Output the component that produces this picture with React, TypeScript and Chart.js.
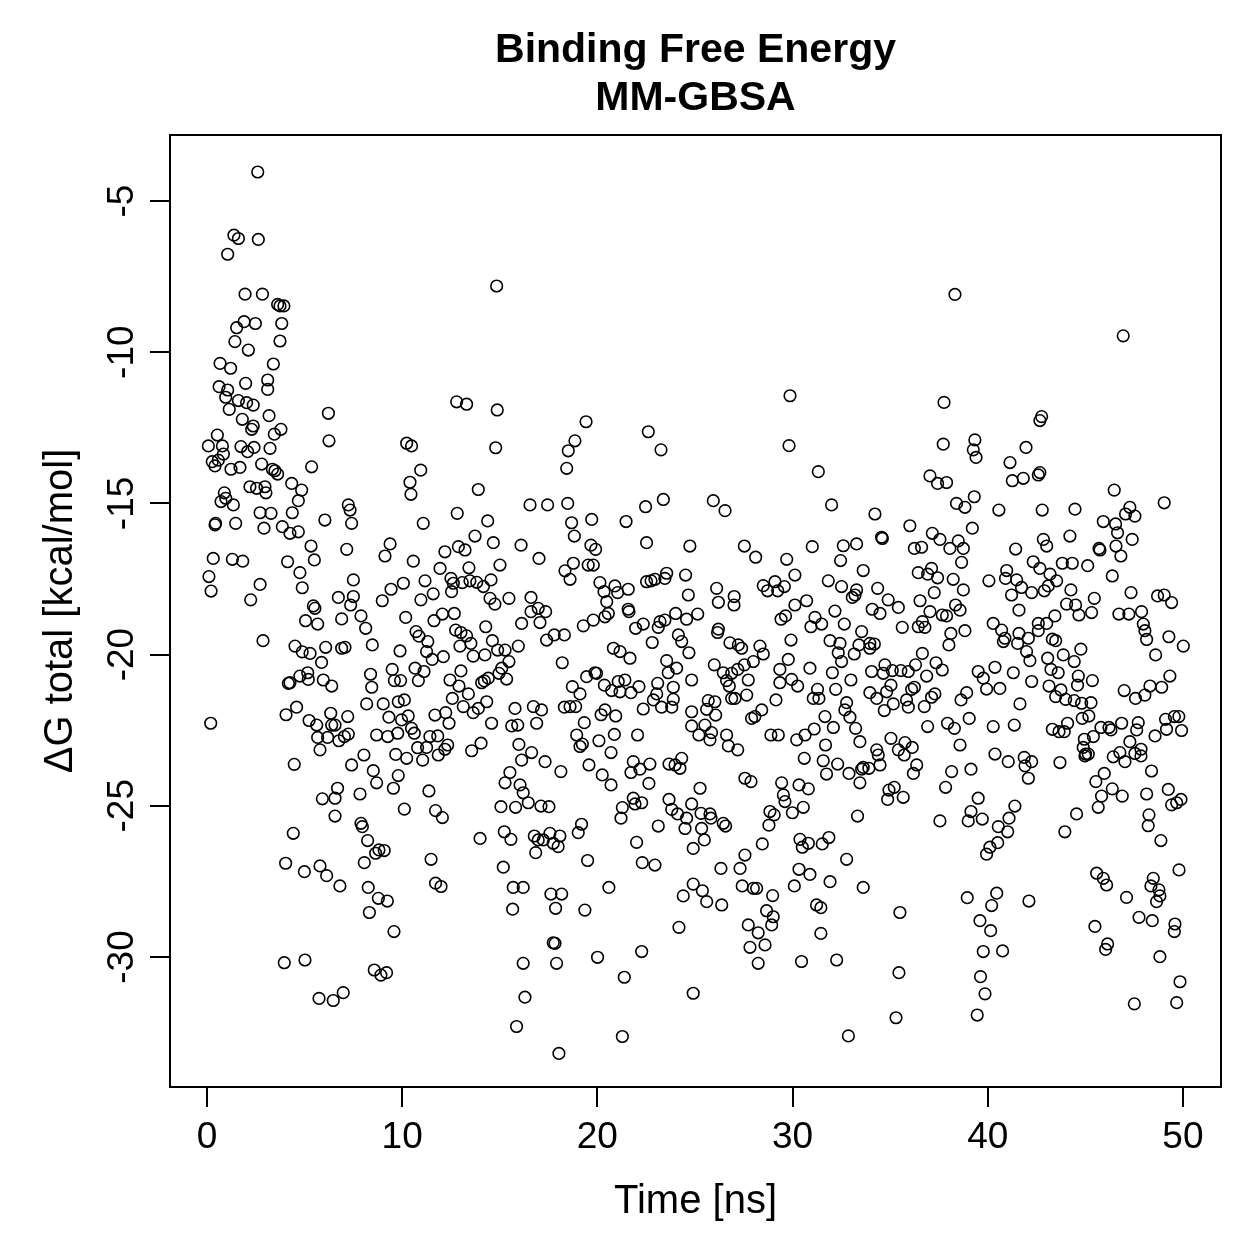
import React, { useEffect, useRef } from "react";
import { Chart, registerables } from "chart.js";

Chart.register(...registerables);

// ---- data: Time [ns] and ΔG total [kcal/mol], grouped by region ----
const time01 = [2.60,1.38,1.61,2.63,1.06,1.95,2.84,3.62,3.74,3.94,1.90,1.52,2.48,3.83,1.43,2.12,3.74,0.67,1.21,3.40,1.98,3.11,3.11,0.62,1.06,0.96,1.61,2.03,2.37,1.14,3.18,6.22,1.81,2.37,2.29,3.79,3.45,6.25,0.53,0.07,0.79,1.74,2.08,2.41,3.23,0.84,0.27,0.41,0.58,1.23,1.69,2.80,3.35,3.48,3.62,5.36,2.20,2.54,2.97,3.02,4.34,4.85,4.68,0.89,0.96,0.72,1.35,7.24,7.33,2.72,3.28,4.37,0.41,0.44,1.47,2.92,3.86,4.25,4.68,6.04,7.41,5.33,5.50,7.16,0.32,1.30,1.83,4.13,4.76,0.10,0.21,2.72,2.24,4.88,6.73,5.45,5.53,7.50,7.50,7.36];
const dG01 = [-4.04,-6.13,-6.24,-6.27,-6.76,-8.08,-8.08,-8.42,-8.47,-8.47,-8.99,-9.19,-9.05,-9.05,-9.65,-9.93,-9.63,-10.37,-10.53,-10.39,-11.03,-10.92,-11.23,-11.14,-11.25,-11.49,-11.60,-11.67,-11.75,-11.89,-12.10,-12.02,-12.22,-12.44,-12.55,-12.55,-12.71,-12.93,-12.74,-13.10,-13.10,-13.12,-13.29,-13.15,-13.18,-13.37,-13.62,-13.76,-13.57,-13.87,-13.81,-13.70,-13.87,-13.92,-14.03,-13.79,-14.45,-14.50,-14.45,-14.65,-14.34,-14.56,-14.91,-14.65,-14.83,-14.94,-15.05,-15.05,-15.22,-15.31,-15.33,-15.31,-15.71,-15.66,-15.66,-15.82,-15.77,-15.99,-15.94,-15.55,-15.66,-16.41,-16.87,-16.52,-16.82,-16.85,-16.91,-16.93,-17.29,-17.42,-17.90,-17.68,-18.19,-17.79,-18.11,-18.39,-18.47,-17.53,-18.08,-18.36];

const time02 = [5.05,5.67,6.90,2.87,4.51,4.88,5.28,6.08,6.90,7.07,5.87,5.16,4.76,5.19,4.17,4.25,5.96,6.39,0.19,4.59,4.05,5.23,5.62,6.34,6.56,6.39,7.21,5.67,6.18,6.76,7.04,7.24,5.79,4.47,7.41,6.69,5.91,6.56,6.56,4.42,4.03,4.99,5.79,6.13,6.81,3.96,5.02,5.74,6.47,6.98];
const dG02 = [-18.88,-18.99,-18.82,-19.54,-19.72,-19.91,-19.96,-19.76,-19.79,-19.76,-20.26,-20.60,-20.71,-20.82,-20.95,-20.93,-20.84,-21.04,-22.27,-21.74,-21.99,-22.18,-22.33,-21.94,-22.33,-22.33,-22.05,-22.74,-22.74,-22.85,-22.71,-22.63,-23.15,-23.63,-23.65,-24.42,-24.77,-24.75,-25.34,-25.91,-26.90,-27.18,-26.99,-27.31,-27.65,-30.19,-30.10,-31.37,-31.44,-31.18];

const time03 = [14.84,12.79,13.30,14.87,10.23,10.48,14.79,10.95,10.40,10.45,13.90,12.82,11.08,14.38,13.73,14.67,16.09,9.38,9.12,10.57,12.19,12.88,13.22,11.94,13.42,15.01,10.06,9.43,8.98,11.17,11.59,10.96,12.50,12.62,13.08,13.47,13.82,14.16,14.55,12.53,14.50,14.75,15.47];
const dG03 = [-7.81,-11.64,-11.72,-11.91,-13.01,-13.10,-13.16,-13.90,-14.30,-14.70,-14.54,-15.33,-15.66,-15.58,-16.08,-16.30,-16.38,-16.34,-16.74,-16.91,-16.60,-16.43,-16.54,-17.15,-17.13,-17.04,-17.64,-17.84,-18.22,-17.56,-17.99,-18.19,-17.48,-17.64,-17.62,-17.56,-17.61,-17.75,-17.53,-17.92,-18.14,-18.33,-18.14];

const time04 = [7.89,8.13,8.47,10.18,10.71,10.86,11.63,12.06,12.67,11.31,11.25,11.54,12.11,9.89,12.74,13.01,13.30,13.52,12.96,13.64,14.24,14.28,14.62,14.89,15.27,15.47,15.95,16.12,15.10,14.96,15.35,14.41,14.07,14.21,13.01,12.45,12.91,13.39,12.57,13.13,13.64,13.90,14.33,14.58,9.49,8.38,8.44,9.60,9.92,10.66,11.12,10.83,9.80,10.11,9.03,8.18,9.32,9.97,10.31,11.68,12.23,12.40,10.48,10.62,9.77,9.26,8.69,11.42,11.82,12.33,12.19,10.79,11.25,11.85,11.05,10.23,9.67,14.04,13.56,15.78,15.61,15.92,15.98,16.12,8.04,8.52,8.69,9.80,9.55,7.84,11.37,10.11,11.71,12.06,15.52,15.27,16.04,16.20,15.06,15.81,7.89,7.96,8.23,8.06,8.64,8.81,9.08,11.48,13.99,15.23,15.57,15.18,8.26,8.78,9.24,8.32,11.71,11.99,15.69,16.20,15.66,9.58,8.57,8.91,9.20,16.20,16.29,15.86];
const dG04 = [-18.72,-19.13,-19.68,-18.77,-19.24,-19.39,-18.88,-18.66,-18.64,-19.57,-19.90,-20.16,-20.07,-19.88,-19.19,-19.27,-19.38,-19.63,-19.72,-20.05,-20.01,-19.08,-19.54,-19.85,-19.85,-20.23,-19.72,-18.97,-20.45,-20.62,-20.81,-20.78,-20.93,-20.87,-20.54,-20.84,-21.04,-21.30,-21.45,-21.72,-21.92,-21.78,-21.56,-22.27,-20.49,-20.65,-21.08,-20.86,-20.86,-20.45,-20.56,-20.86,-21.56,-21.50,-21.63,-21.63,-22.07,-22.16,-22.03,-22.00,-21.92,-22.27,-22.44,-22.60,-22.60,-22.71,-22.66,-22.71,-22.69,-22.99,-23.13,-23.08,-23.07,-23.32,-23.49,-23.43,-23.30,-22.93,-23.18,-21.78,-22.36,-22.33,-22.97,-23.49,-23.32,-23.84,-24.24,-24.00,-24.42,-24.61,-24.51,-25.11,-25.16,-25.39,-23.90,-24.24,-24.31,-24.57,-25.03,-25.05,-25.58,-25.69,-26.15,-26.88,-26.57,-26.46,-26.48,-26.77,-26.08,-25.86,-26.11,-27.03,-27.70,-28.06,-28.15,-28.53,-27.56,-27.67,-27.70,-27.70,-28.42,-29.16,-30.43,-30.60,-30.52,-30.21,-31.33,-32.30];

const time05 = [19.42,18.85,18.51,18.43,22.61,23.26,16.55,17.45,18.48,18.68,19.71,21.47,22.47,23.38,18.82,22.52,17.01,19.67,19.91,18.77,18.34,18.60,19.53,19.79,24.74,20.13,20.34,20.90,21.04,21.58,20.48,20.56,21.58,21.62,22.52,22.75,22.95,23.46,23.55,24.52,24.66,16.60,16.60,16.97,17.35];
const dG05 = [-12.30,-12.93,-13.26,-13.84,-12.63,-13.23,-15.05,-15.05,-15.00,-15.64,-15.53,-15.60,-15.11,-14.87,-16.08,-16.30,-16.82,-16.38,-16.52,-16.98,-17.23,-17.51,-17.04,-17.04,-16.41,-17.62,-17.92,-17.73,-17.95,-17.84,-18.25,-18.64,-18.50,-18.58,-17.59,-17.56,-17.51,-17.48,-17.31,-17.37,-18.03,-18.11,-18.58,-18.47,-18.58];

const time06 = [17.06,17.40,17.79,18.31,18.20,19.28,19.79,20.39,21.96,22.35,22.81,23.21,23.46,23.12,24.01,24.57,24.15,24.32,24.69,20.82,21.16,21.67,23.55,24.06,23.63,24.83,19.45,19.88,19.96,18.72,19.11,20.36,20.73,21.07,21.41,21.16,21.72,22.13,23.09,23.04,22.87,23.29,23.89,23.89,23.81,22.35,18.31,18.60,18.89,16.72,17.14,16.89,20.19,20.39,20.94,19.33,18.94,19.11,19.23,20.08,20.87,22.06,24.83,24.83,16.63,17.32,18.13,19.57,20.25,20.70,20.70,21.84,21.72,22.18,22.69,22.64,23.67,23.98,24.32,24.23,16.46,17.11,17.52,21.28,21.21,21.84,21.93,22.27,23.67,23.81,24.11,24.57,24.49,24.83,23.12,19.19,19.02,16.77,16.97,17.23,17.57,17.74,17.99,18.08,16.84,22.01,19.50,22.30,22.95,24.91,17.62,18.17,17.86,19.36,20.59,24.40,24.91,24.18,17.74,17.83,17.91,20.01,22.27,21.38,24.91,21.28,18.03];
const dG06 = [-18.94,-19.52,-19.35,-19.35,-20.27,-19.05,-18.86,-18.75,-19.13,-18.99,-19.60,-18.91,-18.86,-19.10,-18.64,-18.83,-19.35,-19.57,-19.94,-19.79,-19.90,-20.12,-20.20,-20.45,-20.60,-20.84,-20.73,-20.60,-20.62,-21.06,-21.30,-21.01,-21.19,-20.89,-20.84,-21.23,-21.26,-21.06,-20.95,-21.30,-21.50,-21.74,-21.08,-21.48,-21.74,-21.80,-21.74,-21.72,-21.72,-21.72,-21.83,-22.27,-21.99,-21.83,-22.03,-22.25,-22.66,-23.04,-22.96,-22.85,-22.64,-22.66,-21.89,-22.36,-23.24,-23.54,-23.87,-23.65,-23.98,-24.31,-23.24,-23.54,-23.90,-23.79,-23.62,-24.26,-23.62,-23.65,-23.43,-23.76,-24.90,-25.01,-25.03,-25.06,-25.41,-24.75,-24.94,-24.90,-24.79,-25.12,-25.27,-25.41,-25.75,-24.94,-25.67,-25.61,-25.89,-26.00,-26.13,-26.13,-25.91,-26.24,-26.35,-26.00,-26.55,-26.21,-26.81,-26.88,-26.96,-26.41,-27.92,-27.92,-28.39,-28.45,-27.70,-27.98,-27.59,-29.02,-29.53,-29.55,-30.21,-30.01,-29.82,-30.67,-31.20,-32.63,-33.19];

const time07 = [29.87,29.82,31.32,32.00,25.94,26.54,27.53,28.11,29.70,30.12,31.01,32.60,33.28,32.46,33.62,31.83,32.51,33.28,33.20,33.06,26.11,26.20,27.01,27.00,28.50,28.72,29.10,29.24,29.58,30.72,30.12,32.17];
const dG07 = [-11.44,-13.09,-13.95,-15.05,-14.91,-15.24,-16.41,-16.78,-16.85,-17.37,-16.43,-16.40,-16.34,-16.89,-17.22,-17.56,-17.75,-17.86,-18.03,-18.11,-17.81,-18.27,-18.08,-18.36,-17.72,-17.89,-17.59,-17.89,-17.75,-18.22,-18.36,-18.56];

const time08 = [25.14,29.41,29.64,31.15,31.49,30.94,32.65,33.54,26.20,26.16,26.79,27.22,27.39,28.33,28.50,29.92,31.92,32.43,32.34,32.51,33.16,33.40,25.99,26.45,26.88,27.19,27.53,27.99,27.73,26.62,26.76,26.88,27.05,27.65,29.35,29.78,29.35,29.95,30.26,30.89,32.04,32.99,31.28,31.06,31.35,32.21,32.77,32.68,32.94,33.23,33.45,33.54,33.62,33.45,29.15,28.42,28.07,27.90,25.68,26.02,25.60,26.06,25.51,25.20,25.85,25.77,26.62,26.71,27.19,28.89,29.27,30.21,30.64,31.11,31.66,32.09,31.69,30.60,31.57,32.31,31.74,32.89,27.56,27.87,29.44,30.33,30.81,29.53,29.61,30.55,29.99,25.26,25.31,25.77,25.82,25.34,26.45,26.57,25.48,28.84,29.06,28.79,33.33,28.45,30.38,30.50,30.81,31.52,31.86,27.56,27.31,26.33,30.33,30.89,32.77,31.92,33.62,30.09,25.38,25.60,26.37,27.42,27.99,28.16,28.98,28.67,29.01,28.93,27.73,28.24,27.82,28.59,28.24,31.23,31.45,31.45,30.46,32.26,32.86];
const dG08 = [-18.66,-18.83,-18.72,-18.77,-18.99,-19.08,-18.99,-19.24,-19.16,-19.27,-19.61,-19.68,-19.79,-19.72,-19.98,-19.52,-19.54,-19.63,-19.94,-20.23,-19.98,-19.68,-20.34,-20.60,-20.62,-20.49,-20.34,-20.23,-20.84,-20.86,-21.04,-21.45,-21.45,-21.34,-20.49,-20.16,-20.93,-20.82,-21.04,-20.45,-20.60,-20.84,-21.15,-21.45,-21.45,-21.15,-21.59,-21.83,-22.07,-22.44,-22.88,-23.79,-23.73,-24.24,-21.50,-21.83,-22.05,-22.11,-21.52,-21.56,-21.81,-22.00,-22.33,-22.66,-22.58,-22.82,-22.66,-23.02,-23.15,-22.66,-22.66,-22.82,-22.66,-22.46,-22.05,-22.41,-22.99,-23.43,-23.51,-23.62,-23.95,-23.93,-24.09,-24.20,-24.24,-24.31,-24.44,-24.64,-24.86,-25.05,-25.23,-24.42,-25.25,-25.27,-25.41,-25.75,-25.58,-25.67,-26.13,-25.19,-25.30,-25.64,-25.34,-26.26,-26.11,-26.37,-26.24,-26.26,-26.05,-26.63,-27.07,-27.07,-27.10,-27.27,-26.77,-27.51,-27.70,-27.65,-27.81,-28.17,-28.28,-27.65,-27.73,-27.73,-27.97,-28.47,-28.67,-28.94,-28.94,-29.20,-29.68,-29.60,-30.21,-28.28,-28.37,-29.22,-30.15,-30.10,-32.61];

const time09 = [38.32,37.76,37.72,39.34,39.26,39.40,41.96,41.14,41.26,41.82,37.04,37.43,37.89,38.40,38.83,39.31,40.57,34.22,36.01,34.56,34.60,37.16,37.55,38.49,38.75,39.21,38.06,36.24,36.61,38.66,41.43,42.33,36.44,36.92,37.12,37.43,38.23,38.75,37.26,40.06,40.97,40.91,41.48,41.73,42.25,41.22,41.60,34.36,34.90,35.42,36.53,34.08,34.48,37.04,37.67,38.35,38.58];
const dG09 = [-8.09,-11.66,-13.04,-12.90,-13.23,-13.48,-13.15,-13.65,-14.25,-14.17,-14.09,-14.34,-14.31,-15.00,-15.13,-14.78,-15.22,-15.35,-15.74,-16.12,-16.16,-15.99,-16.19,-16.24,-16.49,-15.82,-16.49,-16.49,-16.45,-16.95,-16.51,-16.93,-17.29,-17.34,-17.15,-17.46,-17.51,-17.86,-17.95,-17.56,-17.22,-17.48,-17.53,-17.78,-17.95,-18.03,-18.53,-17.81,-18.19,-18.44,-18.22,-18.50,-18.64,-18.58,-18.69,-18.36,-18.53];

const time10 = [37.89,35.62,36.44,36.65,36.78,38.11,38.83,38.01,33.96,34.19,33.96,40.28,40.71,40.88,40.80,41.60,42.08,41.53,41.99,42.16,42.25,36.65,37.35,37.67,36.87,34.73,34.05,34.65,35.11,35.55,35.93,36.30,35.04,34.82,33.96,34.31,35.16,34.70,35.84,35.93,36.10,36.24,36.75,37.12,37.29,39.51,39.77,39.94,40.37,40.62,41.31,41.65,38.63,38.92,39.05,37.94,38.29,36.92,40.28,41.36,38.58,35.04,35.42,35.76,36.13,35.72,34.31,34.39,34.48,33.91,36.36,36.19,38.15,39.14,40.37,41.05,41.87,41.91,42.08,42.25,37.84,34.94,35.21,34.87,35.67,37.55,39.51,39.14,39.00,39.72,40.54,41.09,41.39,41.02,40.51,40.11,39.94,35.50,38.95,40.46,40.20,42.11,39.60,40.15,39.77,40.76,35.45,39.63,39.86,35.30,39.46];
const dG10 = [-18.72,-19.10,-19.08,-18.91,-19.10,-19.30,-19.21,-19.68,-19.63,-19.65,-19.79,-18.97,-19.19,-19.46,-19.57,-19.30,-19.46,-19.63,-19.90,-20.20,-20.89,-19.96,-20.27,-20.51,-20.71,-20.34,-20.56,-20.62,-20.53,-20.53,-20.56,-20.34,-21.01,-21.23,-21.26,-21.45,-21.63,-21.85,-21.50,-21.74,-21.15,-21.08,-21.72,-21.41,-21.30,-20.56,-20.78,-21.14,-20.42,-21.12,-20.60,-21.63,-21.50,-21.26,-22.11,-22.27,-22.44,-22.38,-22.38,-22.33,-22.99,-22.77,-23.15,-22.91,-23.07,-23.32,-23.15,-23.32,-23.65,-23.76,-23.65,-23.93,-23.87,-23.79,-23.29,-23.54,-23.40,-23.68,-24.09,-23.54,-24.39,-24.48,-24.39,-24.79,-24.72,-25.50,-24.75,-25.19,-25.50,-25.44,-25.69,-25.41,-25.01,-25.86,-26.22,-26.37,-26.60,-28.53,-28.04,-27.89,-28.30,-28.15,-28.80,-29.13,-29.82,-29.80,-30.52,-30.65,-31.22,-32.01,-31.92];

const time11 = [46.94,42.76,42.67,42.67,42.59,46.48,49.04,42.79,44.47,47.28,47.06,47.54,45.92,46.55,46.65,47.40,46.57,46.82,44.21,42.85,43.02,45.70,45.75,42.67,43.82,44.33,45.12,43.19,43.53,43.10,42.90,46.38,44.26,45.46,47.34,48.70,49.04,49.42,44.04,44.50,45.32,44.67,43.44,46.72,47.23,47.88];
const dG11 = [-9.46,-12.13,-12.26,-13.98,-14.06,-14.56,-14.98,-15.22,-15.19,-15.13,-15.35,-15.42,-15.60,-15.68,-15.97,-16.19,-16.41,-16.74,-16.08,-16.19,-16.41,-16.49,-16.54,-17.15,-16.98,-16.98,-17.06,-17.34,-17.56,-17.73,-17.89,-17.40,-17.86,-18.14,-17.95,-18.06,-18.03,-18.28,-18.33,-18.36,-18.61,-18.69,-18.72,-18.66,-18.66,-18.58];

const time12 = [42.59,43.02,47.97,48.05,48.14,42.59,43.31,43.48,43.87,44.43,44.77,43.07,43.24,43.61,44.64,45.36,44.60,43.14,43.75,43.48,43.99,44.43,44.81,45.29,45.18,44.84,44.09,43.65,43.31,43.92,49.28,50.02,48.60,49.33,48.91,48.31,48.05,47.57,46.99,45.80,46.21,46.31,46.86,47.71,47.63,49.11,49.56,49.79,49.16,49.93,48.57,45.41,44.95,44.89,45.01,45.15,44.98,46.43,46.77,47.03,47.28,47.54,47.85,47.85,43.70,48.39,45.97,45.54,46.38,46.89,45.83,45.66,44.55,43.95,48.14,48.26,48.22,49.25,49.42,49.68,49.90,48.87,45.58,45.92,46.09,47.11,49.80,48.48,48.36,48.77,48.82,48.65,47.75,48.43,49.59,49.56,45.49,46.14,46.04,48.82,49.85,47.51,49.68];
const dG12 = [-18.97,-18.97,-18.99,-19.21,-19.50,-19.21,-19.49,-19.54,-20.01,-20.23,-19.82,-20.12,-20.49,-20.60,-20.71,-20.86,-21.01,-21.04,-21.17,-21.39,-21.48,-21.52,-21.61,-21.59,-22.03,-22.11,-22.27,-22.55,-22.47,-22.55,-19.41,-19.72,-20.01,-20.71,-21.08,-21.04,-21.34,-21.45,-21.19,-22.41,-22.41,-22.49,-22.27,-22.25,-22.49,-22.14,-22.05,-22.05,-22.47,-22.51,-22.69,-22.71,-22.80,-23.07,-23.29,-23.29,-23.35,-23.38,-23.24,-23.54,-22.88,-23.27,-23.13,-23.35,-23.57,-23.85,-23.93,-24.20,-24.44,-24.68,-24.68,-25.05,-25.27,-25.86,-24.61,-25.30,-25.66,-24.46,-24.97,-24.90,-24.79,-26.15,-27.23,-27.40,-27.62,-28.03,-27.12,-27.40,-27.65,-27.78,-27.98,-28.17,-28.69,-28.80,-28.91,-29.16,-28.99,-29.57,-29.75,-29.99,-30.82,-31.55,-31.51];

const xTicks = [0, 10, 20, 30, 40, 50];
const yTicks = [-5, -10, -15, -20, -25, -30];
const titleLines = ["Binding Free Energy", "MM-GBSA"];
const xTitle = "Time [ns]";
const yTitle = "\u0394G total [kcal/mol]";

const timeGroups = [time01, time02, time03, time04, time05, time06, time07, time08, time09, time10, time11, time12];
const dGGroups = [dG01, dG02, dG03, dG04, dG05, dG06, dG07, dG08, dG09, dG10, dG11, dG12];

const FONT = '"Liberation Sans", Arial, Helvetica, sans-serif';

export default function App() {
  const ref = useRef<HTMLCanvasElement | null>(null);

  useEffect(() => {
    const canvas = ref.current;
    if (!canvas) return;

    const points: { x: number; y: number }[] = [];
    timeGroups.forEach((ts, g) => {
      const ds = dGGroups[g];
      const n = Math.min(ts.length, ds.length);
      for (let i = 0; i < n; i++) points.push({ x: ts[i], y: ds[i] });
    });

    const rAxes = {
      id: "rAxes",
      afterDraw(chart: any) {
        const { ctx, chartArea: a, scales } = chart;
        const xs = scales.x;
        const ys = scales.y;
        ctx.save();
        ctx.strokeStyle = "#000";
        ctx.fillStyle = "#000";
        ctx.lineWidth = 2;
        ctx.strokeRect(a.left, a.top, a.right - a.left, a.bottom - a.top);

        const tick = 20;
        ctx.beginPath();
        xTicks.forEach((v) => {
          const px = Math.round(xs.getPixelForValue(v));
          ctx.moveTo(px, a.bottom);
          ctx.lineTo(px, a.bottom + tick);
        });
        yTicks.forEach((v) => {
          const py = Math.round(ys.getPixelForValue(v));
          ctx.moveTo(a.left, py);
          ctx.lineTo(a.left - tick, py);
        });
        ctx.stroke();

        ctx.font = `37px ${FONT}`;
        ctx.textAlign = "center";
        ctx.textBaseline = "alphabetic";
        xTicks.forEach((v) => {
          ctx.fillText(String(v), xs.getPixelForValue(v), 1148);
        });
        yTicks.forEach((v) => {
          const py = ys.getPixelForValue(v);
          ctx.save();
          ctx.translate(133, py);
          ctx.rotate(-Math.PI / 2);
          ctx.fillText(String(v), 0, 0);
          ctx.restore();
        });

        ctx.font = `40px ${FONT}`;
        const cx = (a.left + a.right) / 2;
        const cy = (a.top + a.bottom) / 2;
        ctx.fillText(xTitle, cx, 1213);
        ctx.save();
        ctx.translate(72, cy);
        ctx.rotate(-Math.PI / 2);
        ctx.fillText(yTitle, 0, 0);
        ctx.restore();

        ctx.font = `bold 41px ${FONT}`;
        ctx.fillText(titleLines[0], cx, 62);
        ctx.fillText(titleLines[1], cx, 110);
        ctx.restore();
      },
    };

    const chart = new Chart(canvas, {
      type: "scatter",
      data: {
        datasets: [
          {
            data: points,
            pointStyle: "circle",
            pointRadius: 5.8,
            pointHoverRadius: 5.8,
            borderWidth: 1.6,
            borderColor: "#000",
            backgroundColor: "rgba(0,0,0,0)",
            clip: false as any,
          },
        ],
      },
      options: {
        responsive: false,
        animation: false,
        devicePixelRatio: 1,
        layout: { padding: { left: 170, right: 38, top: 135, bottom: 172 } },
        scales: {
          x: { type: "linear", min: -1.895, max: 51.95, display: false },
          y: { type: "linear", min: -34.3, max: -2.817, display: false },
        },
        plugins: { legend: { display: false }, tooltip: { enabled: false } },
        events: [],
      },
      plugins: [rAxes],
    });

    return () => chart.destroy();
  }, []);

  return (
    <div style={{ position: "absolute", left: 0, top: 0, width: 1259, height: 1259, background: "#fff" }}>
      <canvas ref={ref} width={1259} height={1259} style={{ width: 1259, height: 1259, display: "block" }} />
    </div>
  );
}
